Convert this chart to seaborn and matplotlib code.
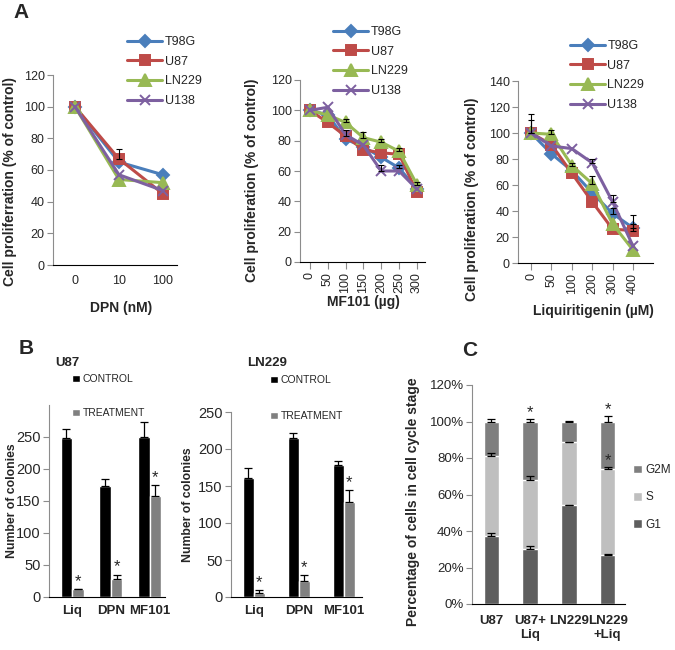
import numpy as np
import pandas as pd
import matplotlib
matplotlib.use("Agg")
import matplotlib.pyplot as plt
import seaborn as sns
from matplotlib.ticker import FuncFormatter

# ---- panel A: proliferation curves ----
cell_lines = ["T98G", "U87", "LN229", "U138"]
line_colors = ["#4a7ebb", "#be4b48", "#98b954", "#7d60a0"]
line_markers = ["D", "s", "^", "x"]
marker_sizes = [6.5, 7.5, 8, 7]

dpn_doses = ["0", "10", "100"]
dpn_t98g = [100, 65, 57]
dpn_u87 = [100, 67, 45]
dpn_ln229 = [100, 54, 52]
dpn_u138 = [100, 57, 47]
dpn_err = [[0, 0, 0], [0, 6, 0], [0, 0, 0], [0, 0, 0]]

mf_doses = ["0", "50", "100", "150", "200", "250", "300"]
mf_t98g = [100, 97, 81, 76, 69, 62, 48]
mf_u87 = [100, 92, 83, 74, 72, 71, 46]
mf_ln229 = [100, 97, 92, 82, 79, 73, 51]
mf_u138 = [100, 102, 84, 77, 60, 60, 48]
mf_err = [[0, 0, 0, 0, 0, 2, 0], [0, 0, 4, 0, 0, 0, 0],
          [0, 0, 2, 4, 2, 2, 2], [0, 0, 0, 0, 4, 0, 0]]

liq_doses = ["0", "50", "100", "200", "300", "400"]
liq_t98g = [100, 84, 71, 54, 38, 27]
liq_u87 = [100, 91, 69, 47, 26, 25]
liq_ln229 = [100, 99, 75, 61, 30, 10]
liq_u138 = [100, 90, 88, 77, 47, 13]
liq_err = [[10, 0, 0, 0, 4, 3], [15, 0, 0, 0, 0, 12],
           [0, 3, 2, 6, 0, 0], [0, 0, 0, 3, 5, 0]]

# ---- panel B: colony counts ----
drugs = ["Liq", "DPN", "MF101"]
groups = ["CONTROL", "TREATMENT"]
u87_control = [249, 173, 250]
u87_control_err = [13, 11, 23]
u87_treat = [13, 28, 158]
u87_treat_err = [0, 7, 17]
ln229_control = [161, 215, 179]
ln229_control_err = [13, 7, 5]
ln229_treat = [5, 22, 128]
ln229_treat_err = [4, 8, 17]

# ---- panel C: cell cycle ----
cc_groups = ["U87", "U87+\nLiq", "LN229", "LN229\n+Liq"]
g1 = [37, 30, 54, 27]
s_phase = [44, 38, 34.5, 47]
g2m = [19, 32, 11.5, 26]
g1_err = [2, 2, 0.5, 0.5]
s_err = [2, 2, 0.5, 1]
g2m_err = [1.5, 1.5, 0.5, 3]

sns.set_style("white")
plt.rcParams["font.family"] = ["Liberation Sans", "DejaVu Sans"]

W, H = 675, 650
fig = plt.figure(figsize=(6.75, 6.5), dpi=100)


def px_axes(x0, y0, x1, y1):
    return fig.add_axes([x0 / W, 1 - y1 / H, (x1 - x0) / W, (y1 - y0) / H])


def style_axes(ax, tick_size):
    sns.despine(ax=ax)
    ax.spines["left"].set_color("#8c8c8c")
    ax.spines["bottom"].set_color("black")
    ax.tick_params(axis="y", left=True, length=4, color="#8c8c8c", labelsize=tick_size, pad=2)
    ax.grid(False)


def curve_panel(ax, doses, series, errs, ymax, ystep, xlabel, ylabel, xlim, rotate,
                leg_xy, ylab_xy, xlab_xy):
    n = len(doses)
    pos = np.arange(n)
    handles = []
    for vals, c, m, ms in zip(series, line_colors, line_markers, marker_sizes):
        sns.lineplot(x=pos, y=vals, color=c, marker=m, linewidth=2.2, markersize=ms, ax=ax)
        ln = ax.lines[-1]
        ln.set_markeredgecolor(c)
        ln.set_markerfacecolor(c)
        ln.set_markeredgewidth(1.4)
        handles.append(ln)
    for vals, e in zip(series, errs):
        e = np.array(e, dtype=float)
        m = e > 0
        ax.errorbar(pos[m], np.array(vals)[m], yerr=[np.zeros(m.sum()), e[m]],
                    fmt="none", ecolor="black", elinewidth=0.8, capsize=2.5, capthick=0.8)
    ax.set_ylim(0, ymax)
    ax.set_yticks(np.arange(0, ymax + 1, ystep))
    ax.set_xlim(*xlim)
    ax.set_xticks(pos)
    ax.set_xticklabels(doses, rotation=90 if rotate else 0)
    style_axes(ax, 9)
    ax.tick_params(axis="x", labelsize=9, bottom=rotate, length=5, color="#8c8c8c", pad=2)
    ax.set_xlabel(xlabel, fontsize=10, fontweight="bold")
    ax.set_ylabel(ylabel, fontsize=10, fontweight="bold")
    ax.yaxis.set_label_coords(*ylab_xy)
    ax.xaxis.set_label_coords(*xlab_xy)
    ax.legend(handles, cell_lines, loc="upper left", frameon=False, fontsize=9,
              bbox_to_anchor=(leg_xy[0] / W, 1 - leg_xy[1] / H), bbox_transform=fig.transFigure,
              borderpad=0, borderaxespad=0, handlelength=2.8, handletextpad=0.2,
              labelspacing=0.62, numpoints=1)


ax1 = px_axes(53, 75, 177, 265)
curve_panel(ax1, dpn_doses, [dpn_t98g, dpn_u87, dpn_ln229, dpn_u138], dpn_err, 120, 20,
            "DPN (nM)", "Cell proliferration (% of control)", (-0.5, 2.32), False,
            (127, 36), (-0.29, 0.44), (0.55, -0.19))

ax2 = px_axes(300, 80, 425, 262)
curve_panel(ax2, mf_doses, [mf_t98g, mf_u87, mf_ln229, mf_u138], mf_err, 120, 20,
            "MF101 (\u00b5g)", "Cell proliferation (% of control)", (-0.55, 6.45), True,
            (333, 26), (-0.33, 0.45), (0.51, -0.18))

ax3 = px_axes(518, 81, 653, 263)
curve_panel(ax3, liq_doses, [liq_t98g, liq_u87, liq_ln229, liq_u138], liq_err, 140, 20,
            "Liquiritigenin (\u00b5M)", "Cell proliferation (% of control)", (-0.64, 5.98), True,
            (570, 40), (-0.29, 0.35), (0.556, -0.225))


def colony_panel(ax, control, control_err, treat, treat_err, ymax, width, xlim, leg_xy,
                 spacing, ylab_x):
    df = pd.DataFrame({
        "drug": drugs * 2,
        "group": np.repeat(groups, len(drugs)),
        "count": control + treat,
    })
    sns.barplot(data=df, x="drug", y="count", hue="group", palette=["black", "#808080"],
                width=width, errorbar=None, saturation=1, ax=ax)
    for cont, vals, errs in zip(ax.containers, [control, treat], [control_err, treat_err]):
        xs = np.array([b.get_x() + b.get_width() / 2 for b in cont])
        ax.errorbar(xs, vals, yerr=[np.zeros(len(vals)), errs], fmt="none", ecolor="black",
                    elinewidth=0.9, capsize=3, capthick=0.9)
    for b, v, e in zip(ax.containers[1], treat, treat_err):
        ax.annotate("*", (b.get_x() + b.get_width() / 2, v + e), xytext=(0, 0),
                    textcoords="offset points", ha="center", va="bottom", fontsize=12)
    ax.set_ylim(0, ymax)
    ax.set_yticks(np.arange(0, 251, 50))
    ax.set_xlim(*xlim)
    style_axes(ax, 10.5)
    ax.tick_params(axis="x", length=0, labelsize=9.5, pad=6)
    for t in ax.get_xticklabels():
        t.set_fontweight("bold")
    ax.set_xlabel("")
    ax.set_ylabel("Number of colonies", fontsize=8.8, fontweight="bold")
    ax.yaxis.set_label_coords(ylab_x, 0.5)
    handles, labels = ax.get_legend_handles_labels()
    ax.legend(handles, labels, loc="upper left", frameon=False, fontsize=7.5,
              bbox_to_anchor=(leg_xy[0] / W, 1 - leg_xy[1] / H), bbox_transform=fig.transFigure,
              borderpad=0, borderaxespad=0, handlelength=0.75, handleheight=0.75,
              handletextpad=0.3, labelspacing=spacing)


ax4 = px_axes(49, 405, 165, 597)
colony_panel(ax4, u87_control, u87_control_err, u87_treat, u87_treat_err, 300, 0.59,
             (-0.6, 2.4), (72, 374), 2.3, -0.27)

ax5 = px_axes(231, 412, 362, 597)
colony_panel(ax5, ln229_control, ln229_control_err, ln229_treat, ln229_treat_err, 250, 0.49,
             (-0.5, 2.4), (270, 375), 2.5, -0.28)

# ---- panel C stacked bars ----
ax6 = px_axes(472, 385, 625, 604)
tops = np.cumsum([g1, s_phase, g2m], axis=0)
phase_names = ["G2M", "S", "G1"]
phase_colors = ["#7f7f7f", "#bfbfbf", "#5e5e5e"]
for k, name, col in zip([2, 1, 0], phase_names, phase_colors):
    sns.barplot(x=cc_groups, y=tops[k], color=col, width=0.4, saturation=1, errorbar=None,
                label=name, ax=ax6)
xs = np.arange(len(cc_groups))
for k, e in zip([0, 1, 2], [g1_err, s_err, g2m_err]):
    ax6.errorbar(xs, tops[k], yerr=[np.zeros(len(e)), e], fmt="none", ecolor="black",
                 elinewidth=0.9, capsize=3, capthick=0.9)
for i, y in [(1, tops[2][1] + g2m_err[1]), (3, tops[2][3] + g2m_err[3]), (3, tops[1][3] + s_err[3])]:
    ax6.annotate("*", (i, y), xytext=(0, -1), textcoords="offset points", ha="center",
                 va="bottom", fontsize=12)
ax6.set_ylim(0, 120)
ax6.set_yticks(np.arange(0, 121, 20))
ax6.yaxis.set_major_formatter(FuncFormatter(lambda v, p: "%d%%" % v))
ax6.set_xlim(-0.5, 3.45)
style_axes(ax6, 9.5)
ax6.tick_params(axis="x", length=0, labelsize=9.5, pad=8)
for t in ax6.get_xticklabels():
    t.set_fontweight("bold")
    t.set_linespacing(1.2)
ax6.set_ylabel("Percentage of cells in cell cycle stage", fontsize=10, fontweight="bold")
ax6.yaxis.set_label_coords(-0.34, 0.466)
ax6.legend(loc="upper left", frameon=False, fontsize=8.5,
           bbox_to_anchor=(633 / W, 1 - 464 / H), bbox_transform=fig.transFigure,
           borderpad=0, borderaxespad=0, handlelength=0.75, handleheight=0.75,
           handletextpad=0.3, labelspacing=1.3)

# titles and panel letters
fig.text(55 / W, 1 - 363 / H, "U87", fontsize=9.5, fontweight="bold", va="center")
fig.text(247 / W, 1 - 363 / H, "LN229", fontsize=9.5, fontweight="bold", va="center")
fig.text(21 / W, 1 - 12 / H, "A", fontsize=15, fontweight="bold", ha="center", va="center")
fig.text(26 / W, 1 - 348 / H, "B", fontsize=15, fontweight="bold", ha="center", va="center")
fig.text(470 / W, 1 - 350 / H, "C", fontsize=15, fontweight="bold", ha="center", va="center")

fig.savefig("out.png", dpi=100)
